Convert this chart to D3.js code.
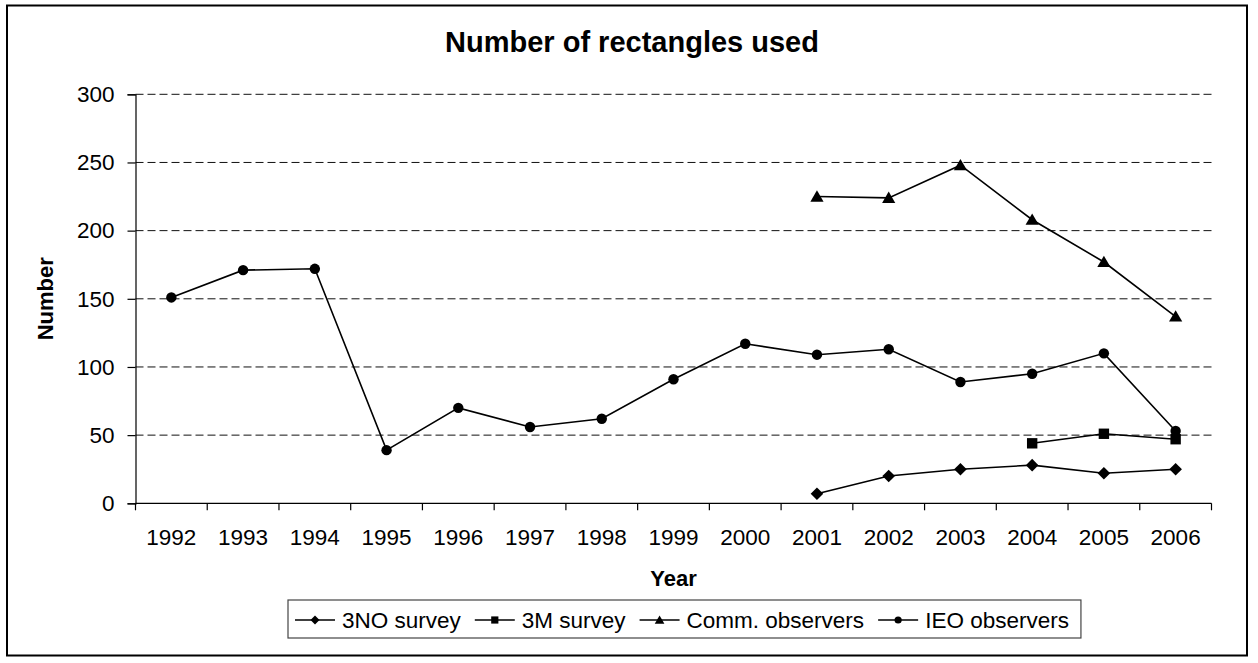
<!DOCTYPE html>
<html>
<head>
<meta charset="utf-8">
<script src="https://cdn.jsdelivr.net/npm/d3@7"></script>
<style>
  html, body { margin: 0; padding: 0; background: #fff; }
  svg { display: block; }
  text { font-family: "Liberation Sans", Arial, sans-serif; fill: #000; }
</style>
</head>
<body>
<svg id="chart" width="1258" height="663"></svg>
<script>
// Years on the category axis
const years = ["1992","1993","1994","1995","1996","1997","1998","1999","2000","2001","2002","2003","2004","2005","2006"];

// Rectangles used per year (null = no data that year)
const survey3NO    = [null, null, null, null, null, null, null, null, null, 7, 20, 25, 28, 22, 25];
const survey3M     = [null, null, null, null, null, null, null, null, null, null, null, null, 44, 51, 47];
const commObserver = [null, null, null, null, null, null, null, null, null, 225, 224, 248, 208, 177, 137];
const ieoObserver  = [151, 171, 172, 39, 70, 56, 62, 91, 117, 109, 113, 89, 95, 110, 53];

const yTicks = [0, 50, 100, 150, 200, 250, 300];

const seriesNames = ["3NO survey", "3M survey", "Comm. observers", "IEO observers"];
const seriesSymbols = ["diamond", "square", "triangle", "circle"];
const seriesValues = [survey3NO, survey3M, commObserver, ieoObserver];

const series = seriesNames.map((name, i) => ({
  name,
  symbol: seriesSymbols[i],
  points: years.map((yr, j) => ({ year: yr, value: seriesValues[i][j] }))
}));

const svg = d3.select("#chart");
const labelSize = "22.5px";

// Plot area
const plot = { left: 135.5, right: 1211.5, top: 94.3, bottom: 503.3 };

const x = d3.scaleBand().domain(years).range([plot.left, plot.right]);
const y = d3.scaleLinear().domain([0, 300]).range([plot.bottom, plot.top]);

// Outer frame
svg.append("rect")
  .attr("x", 7).attr("y", 5.5)
  .attr("width", 1240).attr("height", 650)
  .attr("fill", "#fff").attr("stroke", "#000").attr("stroke-width", 2);

// Title
svg.append("text")
  .attr("x", 632).attr("y", 52)
  .attr("text-anchor", "middle")
  .style("font-size", "29px").style("font-weight", "bold")
  .text("Number of rectangles used");

// Horizontal dashed gridlines
svg.append("g")
  .selectAll("line")
  .data(yTicks.filter(t => t > 0))
  .join("line")
  .attr("x1", plot.left).attr("x2", plot.right)
  .attr("y1", d => y(d)).attr("y2", d => y(d))
  .attr("stroke", "#111").attr("stroke-width", 1)
  .attr("stroke-dasharray", "8,4");

// Y axis
const yAxis = svg.append("g")
  .attr("transform", `translate(${plot.left},0)`)
  .call(d3.axisLeft(y).tickValues(yTicks).tickSize(8).tickPadding(13).tickFormat(d3.format("d")));
yAxis.select(".domain").attr("stroke", "#000").attr("stroke-width", 1.2);
yAxis.selectAll(".tick line").attr("stroke", "#000").attr("stroke-width", 1.2);
yAxis.selectAll("text")
  .style("font-size", labelSize)
  .style("font-family", "'Liberation Sans', Arial, sans-serif")
  .attr("fill", "#000");

// X axis: tick marks sit on category boundaries, labels on category centres
const xg = svg.append("g");
xg.append("line")
  .attr("x1", plot.left).attr("x2", plot.right)
  .attr("y1", plot.bottom).attr("y2", plot.bottom)
  .attr("stroke", "#000").attr("stroke-width", 1.2);
const boundaries = years.map(yr => x(yr)).concat([x(years[years.length - 1]) + x.bandwidth()]);
xg.selectAll("line.tick")
  .data(boundaries)
  .join("line")
  .attr("class", "tick")
  .attr("x1", d => d).attr("x2", d => d)
  .attr("y1", plot.bottom).attr("y2", plot.bottom + 7)
  .attr("stroke", "#000").attr("stroke-width", 1.2);
xg.selectAll("text")
  .data(years)
  .join("text")
  .attr("x", d => x(d) + x.bandwidth() / 2)
  .attr("y", 545)
  .attr("text-anchor", "middle")
  .style("font-size", labelSize)
  .text(d => d);

// Axis titles
svg.append("text")
  .attr("x", (plot.left + plot.right) / 2).attr("y", 586)
  .attr("text-anchor", "middle")
  .style("font-size", "22px").style("font-weight", "bold")
  .text("Year");
svg.append("text")
  .attr("transform", `translate(53,${(plot.top + plot.bottom) / 2}) rotate(-90)`)
  .attr("text-anchor", "middle")
  .style("font-size", "22px").style("font-weight", "bold")
  .text("Number");

// Marker shapes
function markerPath(kind, s) {
  switch (kind) {
    case "diamond": return `M0,${-s}L${s},0L0,${s}L${-s},0Z`;
    case "square": return `M${-s},${-s}H${s}V${s}H${-s}Z`;
    case "triangle": return `M0,${-s * 1.05}L${s * 1.1},${s * 0.85}L${-s * 1.1},${s * 0.85}Z`;
    default: return d3.arc()({ innerRadius: 0, outerRadius: s, startAngle: 0, endAngle: 2 * Math.PI });
  }
}
const markerSize = { diamond: 6.3, square: 5.2, triangle: 6, circle: 5.2 };
const legendMarkerSize = { diamond: 4.5, square: 3.6, triangle: 4.4, circle: 3.6 };

const line = d3.line()
  .defined(d => d.value !== null)
  .x(d => x(d.year) + x.bandwidth() / 2)
  .y(d => y(d.value));

const seriesG = svg.append("g")
  .selectAll("g")
  .data(series)
  .join("g");

seriesG.append("path")
  .attr("d", d => line(d.points))
  .attr("fill", "none")
  .attr("stroke", "#000")
  .attr("stroke-width", 1.6);

seriesG.each(function (s) {
  d3.select(this).selectAll("path.marker")
    .data(s.points.filter(p => p.value !== null))
    .join("path")
    .attr("class", "marker")
    .attr("transform", p => `translate(${x(p.year) + x.bandwidth() / 2},${y(p.value)})`)
    .attr("d", markerPath(s.symbol, markerSize[s.symbol]))
    .attr("fill", "#000");
});

// Legend
const legend = svg.append("g");
const legendBox = legend.append("rect")
  .attr("y", 600).attr("height", 38)
  .attr("fill", "#fff").attr("stroke", "#444").attr("stroke-width", 1.2);
let cx = 295;
const legendMid = 620;
series.forEach(s => {
  const item = legend.append("g");
  item.append("line")
    .attr("x1", cx).attr("x2", cx + 40)
    .attr("y1", legendMid).attr("y2", legendMid)
    .attr("stroke", "#000").attr("stroke-width", 1.6);
  item.append("path")
    .attr("transform", `translate(${cx + 20},${legendMid})`)
    .attr("d", markerPath(s.symbol, legendMarkerSize[s.symbol]))
    .attr("fill", "#000");
  const t = item.append("text")
    .attr("x", cx + 47).attr("y", legendMid + 8)
    .style("font-size", labelSize)
    .text(s.name);
  cx = cx + 47 + t.node().getComputedTextLength() + 14;
});
legendBox.attr("x", 288).attr("width", cx - 14 + 12 - 288);
</script>
</body>
</html>
